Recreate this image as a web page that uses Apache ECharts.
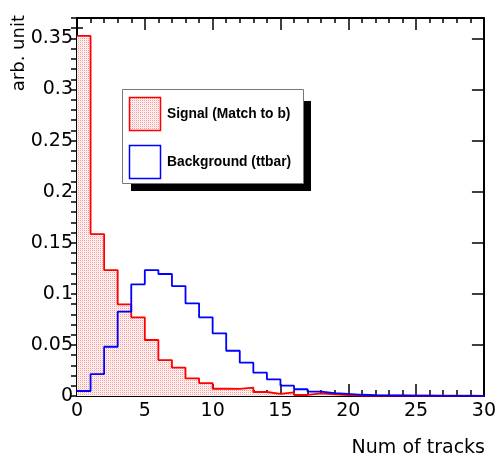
<!DOCTYPE html>
<html>
<head>
<meta charset="utf-8">
<script src="https://cdn.jsdelivr.net/npm/echarts@6/dist/echarts.min.js"></script>
<style>
  html, body { margin: 0; padding: 0; background: #fff; }
  #main { width: 499px; height: 462px; }
</style>
</head>
<body>
<div id="main"></div>
<script>
// bin edges 0..30, one value per bin (width 1)
var binEdges = [0,1,2,3,4,5,6,7,8,9,10,11,12,13,14,15,16,17,18,19,20,21,22,23,24,25,26,27,28,29,30];
var signal = [0.3525,0.1585,0.1233,0.0897,0.0770,0.0548,0.0352,0.0277,0.0173,0.0127,
              0.0071,0.0069,0.0083,0.0039,0.0020,0.0036,0.0010,0.0026,0.0017,0.0010,
              0.0005,0.0004,0.0004,0.0003,0.0003,0.0004,0.0003,0.0003,0.0004,0.0002];
var background = [0.0049,0.0215,0.0482,0.0825,0.1093,0.1233,0.1194,0.1076,0.0907,0.0770,
                  0.0613,0.0443,0.0326,0.0228,0.0163,0.0101,0.0066,0.0042,0.0029,0.0020,
                  0.0012,0.0008,0.0006,0.0005,0.0004,0.0003,0.0002,0.0002,0.0001,0.0001];
var xTitle = "Num of tracks";
var yTitle = "arb. unit";
var legendNames = ["Signal (Match to b)", "Background (ttbar)"];

// histogram as step line: point at each left edge, last edge repeats last bin
function toSteps(vals) {
  var pts = [];
  for (var i = 0; i < vals.length; i++) pts.push([binEdges[i], vals[i]]);
  pts.push([binEdges[vals.length], vals[vals.length - 1]]);
  return pts;
}

// dotted pink fill like ROOT fill style
var pat = document.createElement("canvas");
pat.width = 2; pat.height = 2;
var pctx = pat.getContext("2d");
pctx.fillStyle = "#fff8f8";
pctx.fillRect(0, 0, 2, 2);
pctx.fillStyle = "#f99";
pctx.fillRect(0, 0, 1, 1);
pctx.fillStyle = "#fde2e2";
pctx.fillRect(1, 1, 1, 1);
var fillPattern = { image: pat, repeat: "repeat" };

var font = "DejaVu Sans";
var black = "#000";

function xAx(pos, labels, minorLen) {
  return {
    type: "value", min: 0, max: 30, interval: 5, position: pos,
    axisLine: { show: true, onZero: false, lineStyle: { color: black, width: 2 } },
    axisTick: { show: true, inside: true, length: 12, lineStyle: { color: black, width: 1.5 } },
    minorTick: { show: true, splitNumber: 5, length: minorLen, lineStyle: { color: black, width: 1.5 } },
    splitLine: { show: false },
    axisLabel: { show: labels, color: black, fontFamily: font, fontSize: 19, margin: 6 }
  };
}
function yMajor(pos, labels) {
  return {
    type: "value", min: 0, max: 0.37, interval: 0.05, position: pos, offset: 0,
    axisLine: { show: true, onZero: false, lineStyle: { color: black, width: 2 } },
    axisTick: { show: true, inside: true, length: 12, lineStyle: { color: black, width: 1.5 } },
    splitLine: { show: false },
    axisLabel: { show: labels, showMaxLabel: false, color: black, fontFamily: font, fontSize: 19, margin: 4 }
  };
}
function yMinor(pos) {
  return {
    type: "value", min: 0, max: 0.37, interval: 0.01, position: pos, offset: 0,
    axisLine: { show: false },
    axisTick: { show: true, inside: true, length: 6, lineStyle: { color: black, width: 1.5 } },
    splitLine: { show: false },
    axisLabel: { show: false }
  };
}

var chart = echarts.init(document.getElementById("main"));
chart.setOption({
  animation: false,
  backgroundColor: "#fff",
  grid: { left: 77, right: 15, top: 18, bottom: 66 },
  xAxis: [xAx("bottom", true, 6), xAx("top", false, 5)],
  yAxis: [yMajor("left", true), yMinor("left"), yMajor("right", false), yMinor("right")],
  series: [
    {
      name: legendNames[0], type: "line", step: "end", symbol: "none",
      xAxisIndex: 0, yAxisIndex: 0,
      lineStyle: { color: "#ff0000", width: 1.8 },
      areaStyle: { color: fillPattern, opacity: 1 },
      data: toSteps(signal), z: 2
    },
    {
      name: legendNames[1], type: "line", step: "end", symbol: "none",
      xAxisIndex: 0, yAxisIndex: 0,
      lineStyle: { color: "#0000ff", width: 1.8 },
      data: toSteps(background), z: 3
    }
  ],
  graphic: [
    // axis titles
    { type: "text", right: 14, top: 439,
      style: { text: xTitle, fill: black, font: "19px '" + font + "'" } },
    { type: "text", x: 28, y: 15, rotation: Math.PI / 2,
      style: { text: yTitle, fill: black, font: "18px '" + font + "'", align: "right", verticalAlign: "bottom" } },
    // legend with shadow
    { type: "rect", shape: { x: 131, y: 101, width: 180, height: 90 }, style: { fill: black }, z: 10 },
    { type: "rect", shape: { x: 122.5, y: 89.5, width: 181, height: 94 },
      style: { fill: "#fff", stroke: "#777", lineWidth: 1 }, z: 11 },
    { type: "rect", shape: { x: 129.5, y: 97.5, width: 31, height: 33 },
      style: { fill: fillPattern, stroke: "#ff0000", lineWidth: 1.5 }, z: 12 },
    { type: "rect", shape: { x: 129.5, y: 145.5, width: 31, height: 33 },
      style: { fill: "#fff", stroke: "#0000ff", lineWidth: 1.5 }, z: 12 },
    { type: "text", x: 167, y: 114, z: 12,
      style: { text: legendNames[0], fill: black, font: "bold 13.8px 'Liberation Sans'", verticalAlign: "middle" } },
    { type: "text", x: 167, y: 162, z: 12,
      style: { text: legendNames[1], fill: black, font: "bold 13.8px 'Liberation Sans'", verticalAlign: "middle" } }
  ]
});
</script>
</body>
</html>
